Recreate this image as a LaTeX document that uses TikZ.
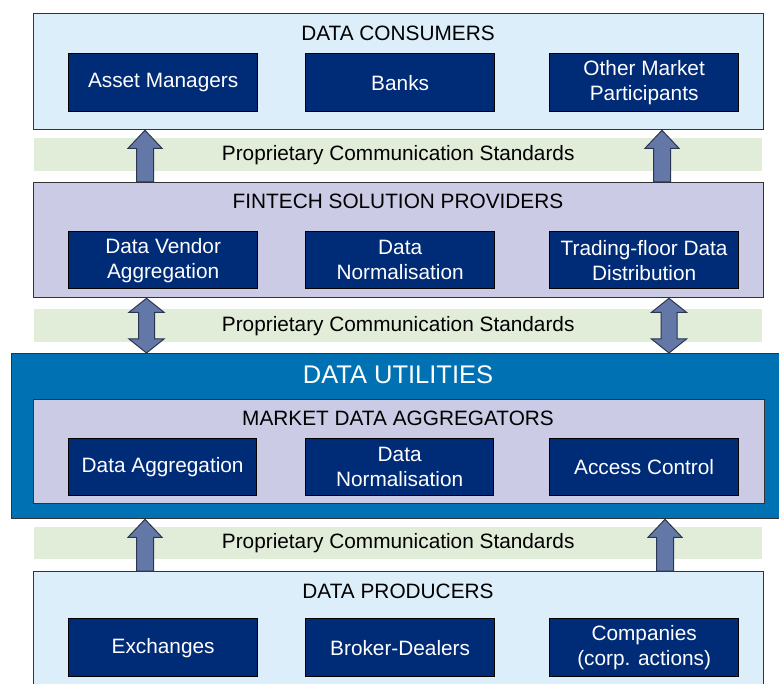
\documentclass[tikz,border=0pt]{standalone}
\usepackage{fontspec}
\usepackage{tikz}
\usepackage{xcolor}
\usetikzlibrary{shapes,arrows,calc}
\setmainfont{Liberation Sans}

\definecolor{skyfill}{HTML}{DCEEF9}
\definecolor{lavfill}{HTML}{CBCBE5}
\definecolor{navyfill}{HTML}{002B77}
\definecolor{utilfill}{HTML}{0072B3}
\definecolor{bandfill}{HTML}{E1ECD9}
\definecolor{arrfill}{HTML}{6478A8}
\definecolor{arrline}{HTML}{2A3550}

% fat arrow pointing up, from #1 (bottom) to #2 (top)
\newcommand{\fatup}[2]{%
  \path let \p1=#1, \p2=#2 in
    [fill=arrfill, draw=arrline, line width=1pt, line join=miter]
    (\x1-8.5pt,\y1) -- (\x1-8.5pt,\y2-18pt) -- (\x1-17pt,\y2-18pt) -- (\x1,\y2)
    -- (\x1+17pt,\y2-18pt) -- (\x1+8.5pt,\y2-18pt) -- (\x1+8.5pt,\y1) -- cycle;}
% fat arrow with two heads, from #1 (bottom) to #2 (top)
\newcommand{\fatboth}[2]{%
  \path let \p1=#1, \p2=#2 in
    [fill=arrfill, draw=arrline, line width=1pt, line join=miter]
    (\x1,\y1) -- (\x1-17.5pt,\y1+14pt) -- (\x1-8pt,\y1+14pt) -- (\x1-8pt,\y2-14pt)
    -- (\x1-17.5pt,\y2-14pt) -- (\x1,\y2) -- (\x1+17.5pt,\y2-14pt) -- (\x1+8pt,\y2-14pt)
    -- (\x1+8pt,\y1+14pt) -- (\x1+17.5pt,\y1+14pt) -- cycle;}

\begin{document}
\begin{tikzpicture}[x=1pt,y=-1pt,
    layer/.style={draw=black!80, line width=1.3pt, anchor=north west, inner sep=0pt},
    sky/.style={layer, fill=skyfill, minimum width=730pt, minimum height=116pt},
    lav/.style={layer, fill=lavfill, minimum width=730pt},
    band/.style={fill=bandfill, anchor=north west, inner sep=0pt, minimum width=728pt, minimum height=33pt},
    inbox/.style={draw=black, line width=1.3pt, fill=navyfill, text=white, anchor=north west,
                  minimum width=189pt, minimum height=58pt, inner sep=0pt, align=center,
                  font=\fontsize{20.8}{25}\selectfont},
    title/.style={font=\fontsize{20.8}{25}\selectfont, inner sep=0pt},
    std/.style={font=\fontsize{20.8}{25}\selectfont, inner sep=0pt}]
                % Bounding box
                \useasboundingbox (0,0) rectangle (779,684);

                % Data consumers
                \node[sky] (cons) at (33,13) {};
                \node[title] (consT) at (398,33.5) {DATA CONSUMERS};
                \node[inbox] (am) at (68,53) {Asset Managers};
                \node[inbox] (banks) at (305,53) {Banks};
                \node[inbox] (omp) at (549,53) {Other Market\\Participants};

                % Standards band 1
                \node[band] (std1) at (34,138) {};
                \node[std] (std1T) at (std1.center) {Proprietary Communication Standards};

                % Fintech solution providers
                \node[lav, minimum height=115pt] (fin) at (33,182) {};
                \node[title] (finT) at (398,201.5) {FINTECH SOLUTION PROVIDERS};
                \node[inbox, minimum height=57pt] (dva) at (68,231) {Data Vendor\\Aggregation};
                \node[inbox, minimum height=57pt] (dnf) at (305,231) {Data\\Normalisation};
                \node[inbox, minimum height=57pt] (tfd) at (549,231) {Trading-floor Data\\Distribution};

                % Standards band 2
                \node[band] (std2) at (34,309) {};
                \node[std] (std2T) at (std2.center) {Proprietary Communication Standards};

                % Data utilities
                \node[layer, fill=utilfill, minimum width=770pt, minimum height=165pt] (util) at (11,353) {};
                \node[title, text=white, font=\fontsize{25.5}{30}\selectfont] (utilT) at (398,375) {DATA UTILITIES};
                \node[lav, minimum width=731pt, minimum height=104pt] (mda) at (33,399) {};
                \node[title] (mdaT) at (398,418.5) {MARKET DATA AGGREGATORS};
                \node[inbox, minimum width=188pt, minimum height=57pt] (dag) at (68,438) {Data Aggregation};
                \node[inbox, minimum width=188pt, minimum height=57pt] (dnm) at (305,438) {Data\\Normalisation};
                \node[inbox, minimum width=189pt, minimum height=57pt] (acc) at (549,438) {Access Control};

                % Standards band 3
                \node[band, minimum height=32pt] (std3) at (34,527) {};
                \node[std] (std3T) at (std3.center) {Proprietary Communication Standards};

                % Data producers
                \node[sky, minimum height=125pt] (prod) at (33,571) {};
                \node[title] (prodT) at (398,591.5) {DATA PRODUCERS};
                \node[inbox] (exch) at (68,618) {Exchanges};
                \node[inbox] (bd) at (305,618) {Broker-Dealers};
                \node[inbox] (comp) at (549,618) {Companies\\(corp. actions)};

                % arrow columns
                \coordinate (colL) at (145,0);
                \coordinate (colLm) at (146.5,0);
                \coordinate (colR) at (662,0);
                \coordinate (colRm) at (669,0);
                \coordinate (colRb) at (665,0);

                % arrows
                \fatup{(colL |- fin.north)}{(colL |- cons.south)}
                \fatup{(colR |- fin.north)}{(colR |- cons.south)}
                \fatboth{(colLm |- util.north)}{(colLm |- fin.south)}
                \fatboth{(colRm |- util.north)}{(colRm |- fin.south)}
                \fatup{(colL |- prod.north)}{(colL |- util.south)}
                \fatup{(colRb |- prod.north)}{(colRb |- util.south)}
\end{tikzpicture}
\end{document}
